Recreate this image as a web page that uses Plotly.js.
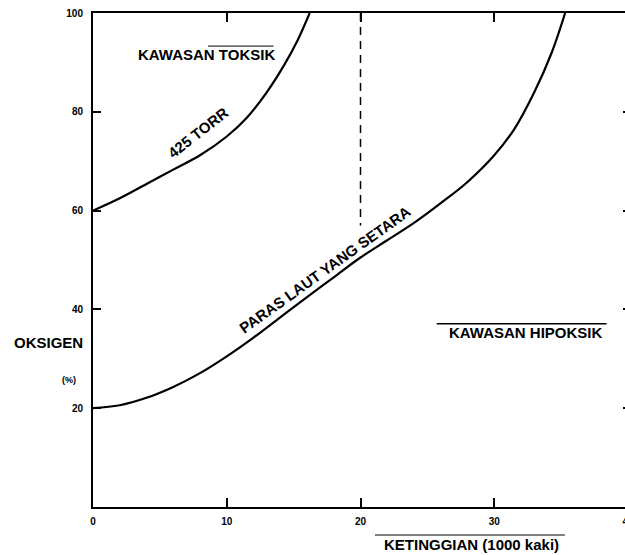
<!DOCTYPE html>
<html>
<head>
<meta charset="utf-8">
<script src="https://cdn.plot.ly/plotly-3.0.1.min.js"></script>
<style>
html,body{margin:0;padding:0;overflow:hidden;background:#fff;}
#chart{width:628px;height:555px;}
</style>
</head>
<body>
<div id="chart"></div>
<script>
// Altitude (1000 ft) vs oxygen (%)
const torrX = [0, 2, 4, 6, 8, 10, 11.5, 13, 14.3, 15.3, 16.2];
const torrY = [60, 62.5, 65.4, 68.3, 71.2, 75, 78.8, 84, 89.5, 94.5, 100];

const seaX = [0, 2, 4, 6, 8, 10, 12, 14, 16, 18, 20, 22, 24, 26, 28, 30, 31.5, 33, 34.3, 35.3];
const seaY = [20, 20.6, 22.1, 24.3, 27.1, 30.5, 34.3, 38.4, 42.5, 46.5, 50.5, 54, 57.5, 61.5, 65.8, 71.2, 76.5, 84, 92, 100];

const dashX = [20, 20];
const dashY = [100, 57];

const xTicks = [0, 10, 20, 30, 40];
const yTicks = [20, 40, 60, 80, 100];

const FONT = 'Liberation Sans, Arial, sans-serif';

const traces = [
  {x: torrX, y: torrY, mode: 'lines', line: {color: '#000', width: 2.2, shape: 'spline'}, hoverinfo: 'skip'},
  {x: seaX, y: seaY, mode: 'lines', line: {color: '#000', width: 2.2, shape: 'spline'}, hoverinfo: 'skip'},
  {x: dashX, y: dashY, mode: 'lines', line: {color: '#000', width: 1.5, dash: '8px,6px'}, hoverinfo: 'skip'},
  {x: [0], y: [0], yaxis: 'y2', mode: 'markers', marker: {opacity: 0}, hoverinfo: 'skip'}
];

function ann(text, x, y, size, angle, ref) {
  return {text: text, x: x, y: y, xref: ref || 'x', yref: ref || 'y', showarrow: false,
    xanchor: 'center', yanchor: 'middle',
    textangle: angle || 0,
    font: {family: FONT, size: size, color: '#000', weight: 'bold'}};
}

const tickFont = {family: FONT, size: 10, color: '#000', weight: 'bold'};

const layout = {
  width: 628, height: 555,
  margin: {l: 93, r: 0, t: 13, b: 48},
  paper_bgcolor: '#fff', plot_bgcolor: '#fff',
  showlegend: false,
  xaxis: {
    range: [0, 40], tickvals: xTicks, ticktext: xTicks.map(String),
    ticks: 'inside', ticklen: 9, tickwidth: 2, tickcolor: '#000',
    showline: true, linewidth: 2, linecolor: '#000', mirror: 'ticks',
    showgrid: false, zeroline: false, ticklabelstandoff: 4,
    ticklabeloverflow: 'allow',
    tickfont: tickFont
  },
  yaxis: {
    range: [0, 100], tickvals: yTicks, ticktext: yTicks.map(String),
    ticks: 'inside', ticklen: 8, tickwidth: 2, tickcolor: '#000',
    showline: true, linewidth: 2, linecolor: '#000', mirror: false,
    showgrid: false, zeroline: false, ticklabelstandoff: 6,
    tickfont: tickFont
  },
  yaxis2: {
    overlaying: 'y', side: 'right', range: [0, 100], tickvals: yTicks,
    ticks: 'inside', ticklen: 5, tickwidth: 2, tickcolor: '#000',
    showticklabels: false, showline: false, showgrid: false, zeroline: false
  },
  annotations: [
    ann('KAWASAN TOKSIK', 8.45, 91.5, 15, 0),
    ann('425 TORR', 7.85, 75.9, 15, -38),
    ann('PARAS LAUT YANG SETARA', 17.35, 48, 15, -35.6),
    ann('KAWASAN HIPOKSIK', 32.4, 35.4, 15, 0),
    ann('KETINGGIAN (1000 kaki)', 0.7084, -0.0769, 15, 0, 'paper'),
    ann('OKSIGEN', -0.0841, 0.332, 15, 0, 'paper'),
    ann('(%)', -0.0449, 0.257, 9, 0, 'paper')
  ],
  shapes: [
    {type: 'line', xref: 'x', yref: 'y', x0: 25.7, x1: 38.4, y0: 37.1, y1: 37.1, line: {color: '#000', width: 1.5}},
    {type: 'line', xref: 'paper', yref: 'paper', x0: 0.527, x1: 0.882, y0: -0.0567, y1: -0.0567, line: {color: '#000', width: 1}},
    {type: 'line', xref: 'x', yref: 'y', x0: 8.6, x1: 13.5, y0: 93.3, y1: 93.3, line: {color: '#000', width: 1}}
  ]
};

Plotly.newPlot('chart', traces, layout, {staticPlot: true, displayModeBar: false});
</script>
</body>
</html>
